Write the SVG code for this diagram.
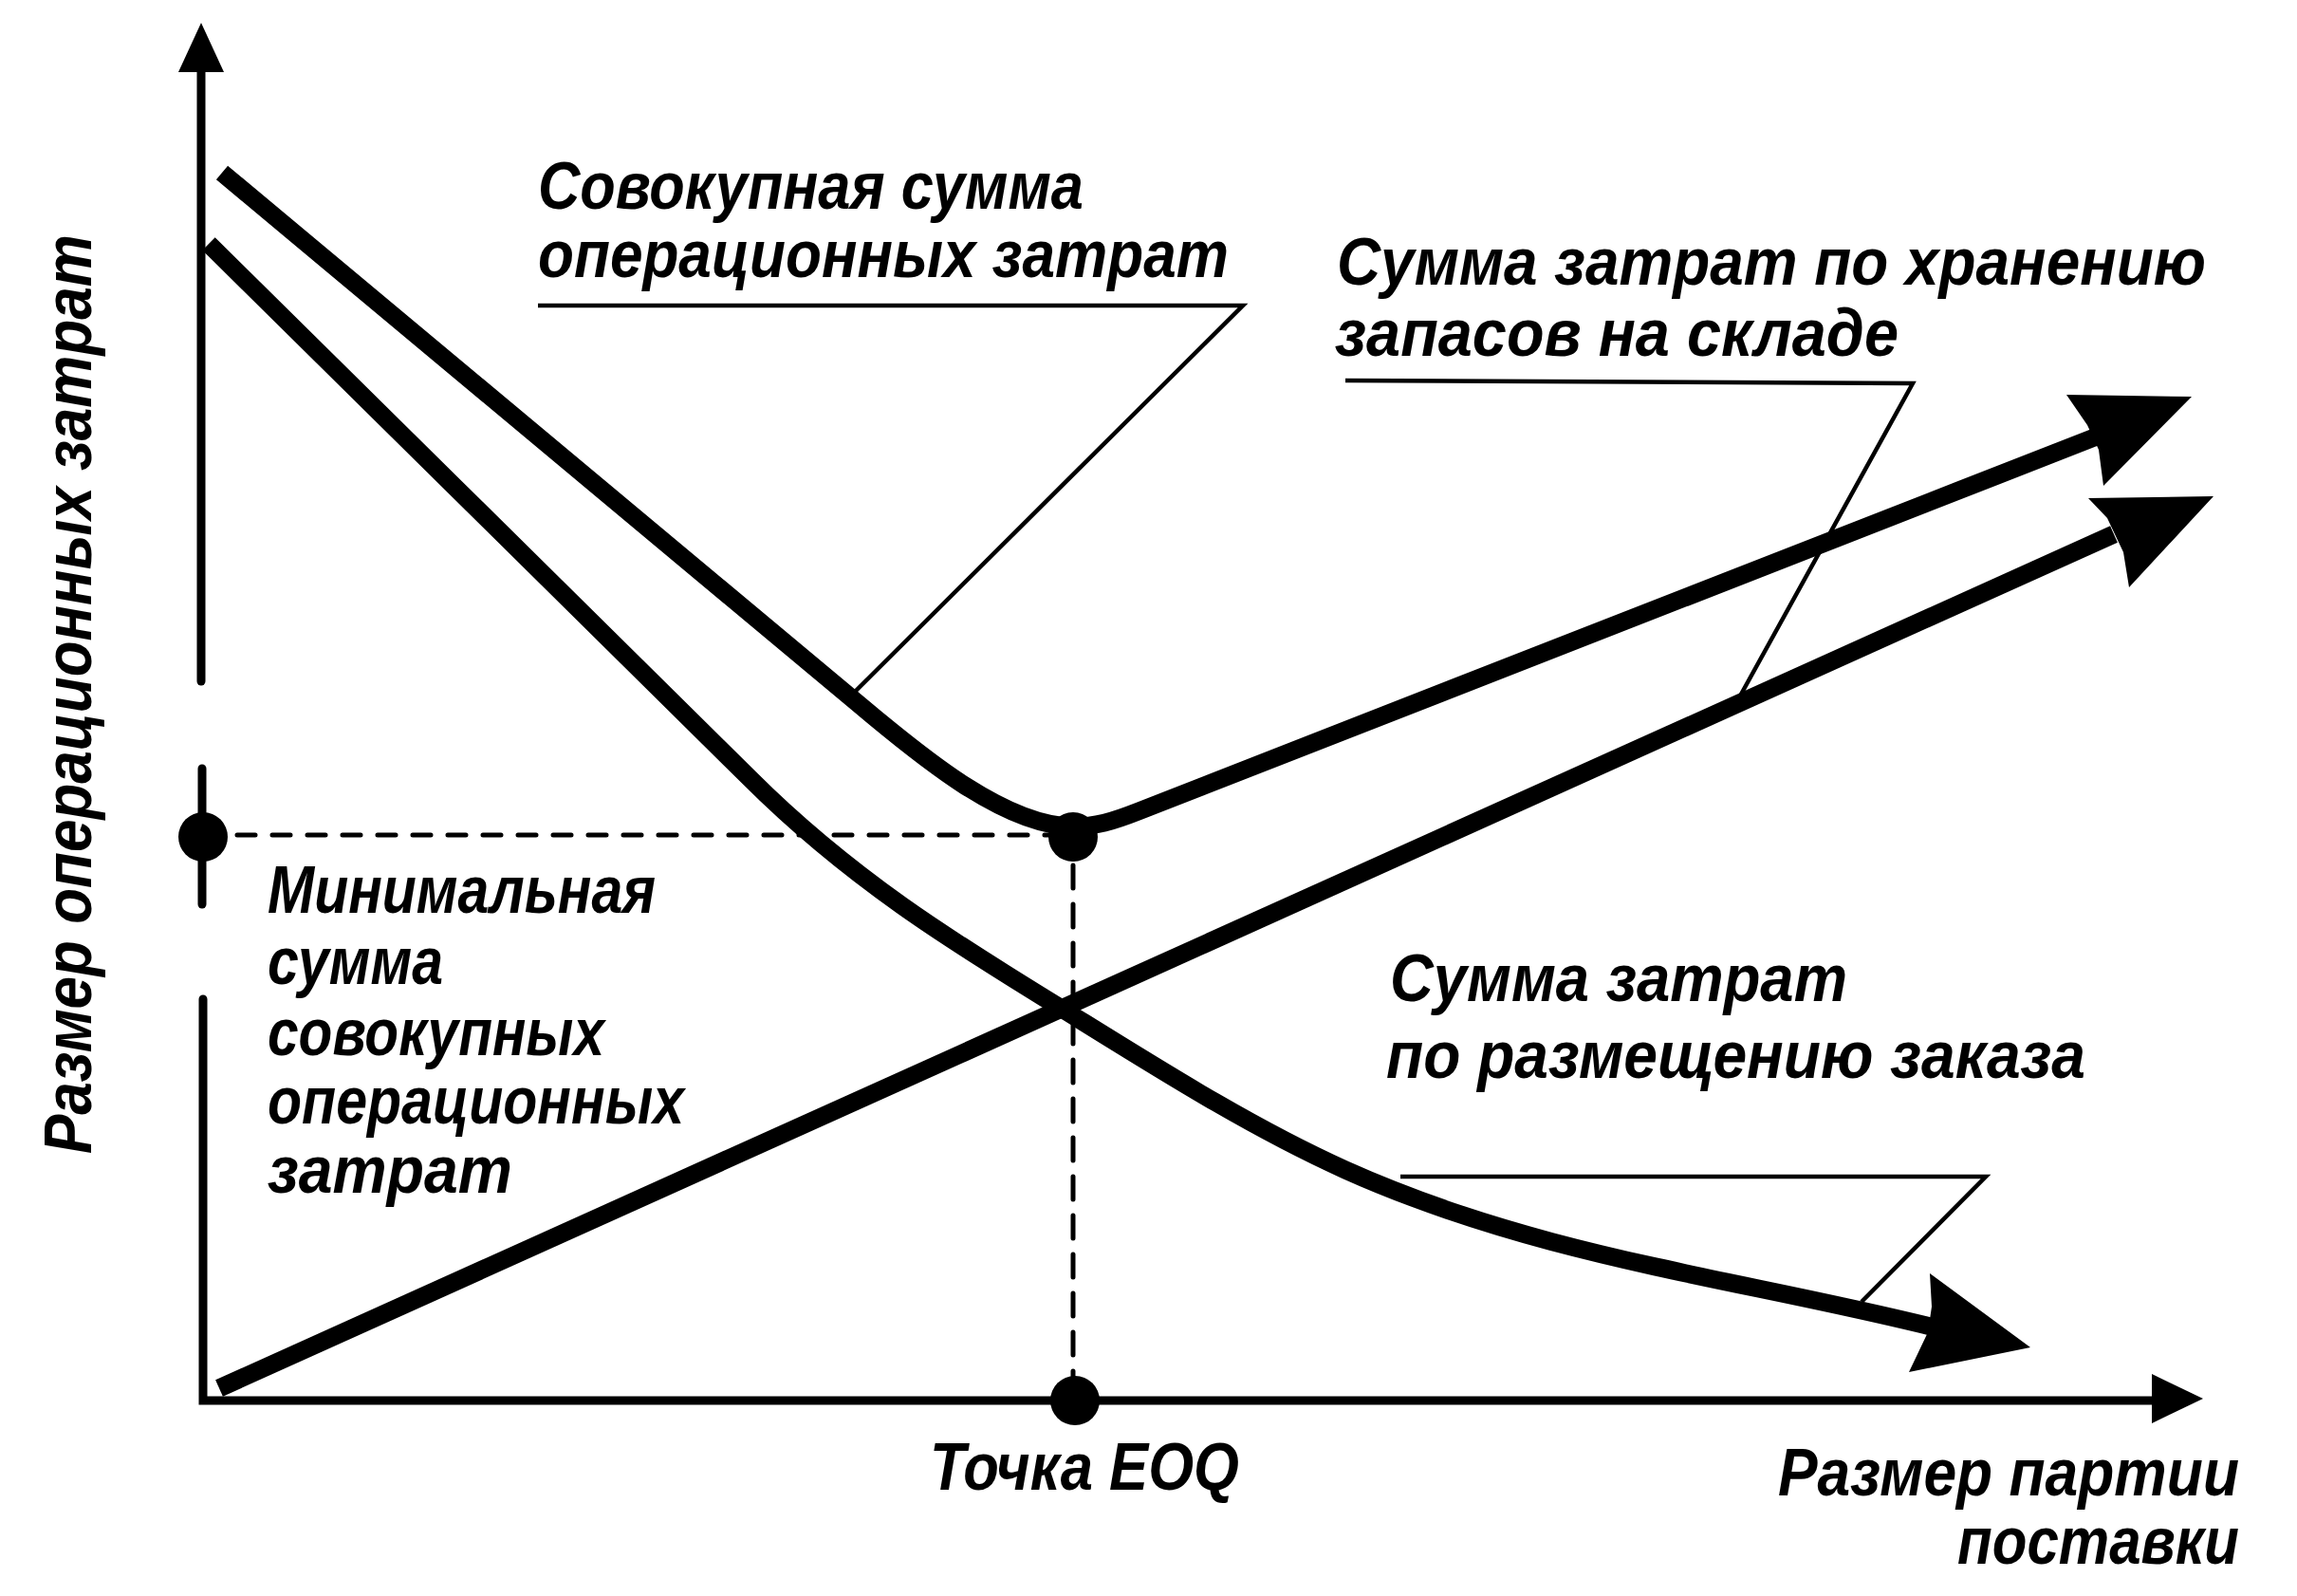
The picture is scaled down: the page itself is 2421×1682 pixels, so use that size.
<svg xmlns="http://www.w3.org/2000/svg" width="2421" height="1682" viewBox="0 0 2421 1682">
<style>
.t{font-family:"Liberation Sans",Arial,sans-serif;font-style:italic;font-weight:bold;font-size:71px;fill:#000}
.ax{stroke:#000;stroke-width:9;fill:none;stroke-linecap:round}
.thick{stroke:#000;stroke-width:19;fill:none;stroke-linejoin:round}
.lead{stroke:#000;stroke-width:4.5;fill:none;stroke-linejoin:miter}
.dash{stroke:#000;stroke-width:5;fill:none;stroke-linecap:round}
.head{fill:#000}
</style>
<rect width="2421" height="1682" fill="#fff"/>
<g id="axes">
<path class="ax" d="M212,75 L212,718"/>
<path class="ax" d="M213,810 L213,953"/>
<path class="ax" d="M214,1053 L214,1476 L2275,1476"/>
<polygon class="head" points="212,24 236,76 188,76"/>
<polygon class="head" points="2268,1448 2322,1474 2268,1500"/>
</g>
<g id="guides">
<path class="dash" d="M250,880 L1108,880" stroke-dasharray="19 18"/>
<path class="dash" d="M1131,912 L1131,1450" stroke-dasharray="24 17"/>
</g>
<g id="connectors">
<path id="total-cost" class="thick" d="M234,182 L905,742 C975,801 1061,871 1131,871 C1155,871 1172,866 1200,855 L2210,460"/>
<polygon class="head" points="2178,416 2310,418 2217,512 2212,474 2200,448"/>
<path id="storage-cost" class="thick" d="M231,1463 L2228,563"/>
<polygon class="head" points="2201,525 2333,523 2244,619 2238,582 2221,546"/>
<path id="ordering-cost" class="thick" d="M220,257 L790,820 C900,930 1015,999 1119,1063 C1219,1125 1318,1188 1418,1233 C1623,1325 1830,1347 2035,1398"/>
<polygon class="head" points="2034,1342 2140,1420 2012,1446 2032,1404 2036,1377"/>
<path class="lead" d="M567,322 L1310,322 L895,735"/>
<path class="lead" d="M1418,401 L2016,404 L1831,739"/>
<path class="lead" d="M1476,1240 L2093,1240 L1962,1372"/>
</g>
<g id="points">
<circle cx="214" cy="882" r="26"/>
<circle cx="1131" cy="882" r="26"/>
<circle cx="1133" cy="1476" r="26"/>
</g>
<g id="label-total">
<text class="t" x="567" y="220" textLength="575" lengthAdjust="spacingAndGlyphs">Совокупная сумма</text>
<text class="t" x="567" y="292" textLength="728" lengthAdjust="spacingAndGlyphs">операционных затрат</text>
</g>
<g id="label-storage">
<text class="t" x="1409" y="300" textLength="916" lengthAdjust="spacingAndGlyphs">Сумма затрат по хранению</text>
<text class="t" x="1407" y="375" textLength="594" lengthAdjust="spacingAndGlyphs">запасов на складе</text>
</g>
<g id="label-min">
<text class="t" x="282" y="962" textLength="409" lengthAdjust="spacingAndGlyphs">Минимальная</text>
<text class="t" x="282" y="1037" textLength="185" lengthAdjust="spacingAndGlyphs">сумма</text>
<text class="t" x="282" y="1112" textLength="355" lengthAdjust="spacingAndGlyphs">совокупных</text>
<text class="t" x="282" y="1184" textLength="439" lengthAdjust="spacingAndGlyphs">операционных</text>
<text class="t" x="282" y="1257" textLength="258" lengthAdjust="spacingAndGlyphs">затрат</text>
</g>
<g id="label-ordering">
<text class="t" x="1465" y="1055" textLength="482" lengthAdjust="spacingAndGlyphs">Сумма затрат</text>
<text class="t" x="1461" y="1136" textLength="737" lengthAdjust="spacingAndGlyphs">по размещению заказа</text>
</g>
<g id="label-eoq">
<text class="t" x="980" y="1570" textLength="326" lengthAdjust="spacingAndGlyphs">Точка EOQ</text>
</g>
<g id="label-x">
<text class="t" x="1874" y="1576" textLength="486" lengthAdjust="spacingAndGlyphs">Размер партии</text>
<text class="t" x="2063" y="1648" textLength="297" lengthAdjust="spacingAndGlyphs">поставки</text>
</g>
<g id="label-y">
<text class="t" transform="translate(96,1216) rotate(-90)" textLength="969" lengthAdjust="spacingAndGlyphs">Размер операционных затрат</text>
</g>
</svg>
